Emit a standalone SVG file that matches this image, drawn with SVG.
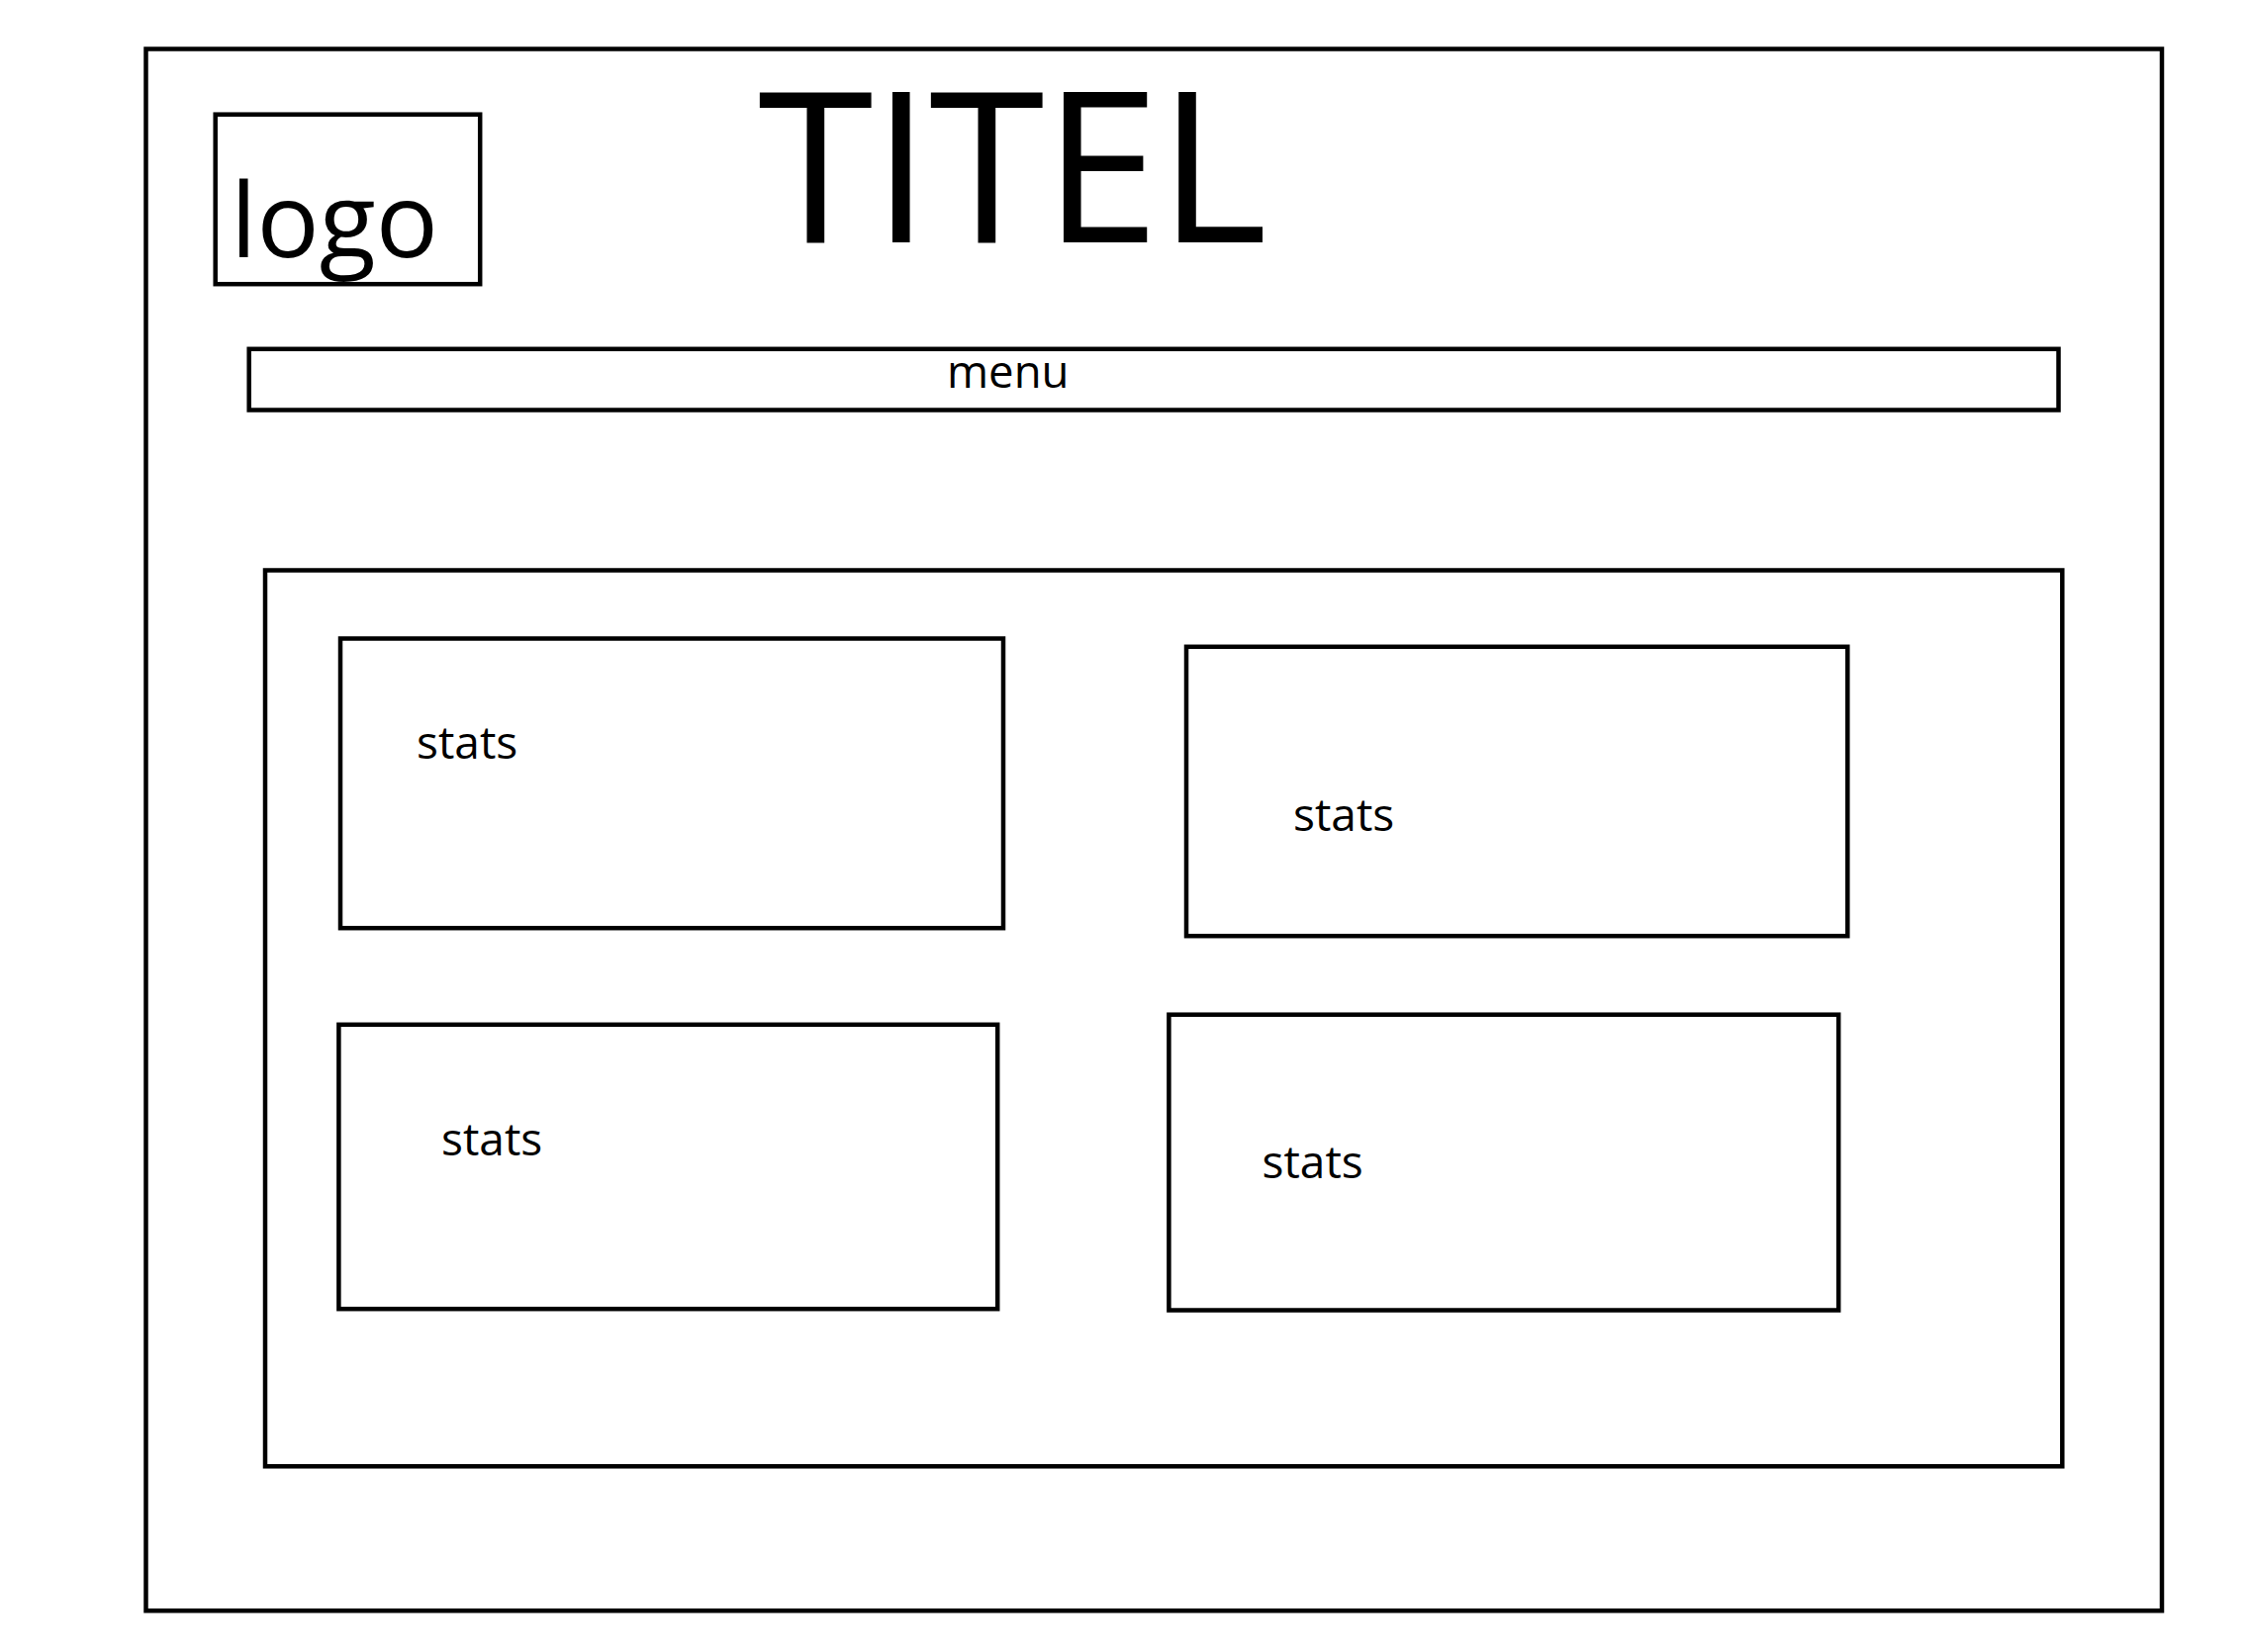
<svg xmlns="http://www.w3.org/2000/svg" width="2271" height="1670" viewBox="0 0 2271 1670">
  <style>
    .box { fill: none; stroke: #000; stroke-width: 4.5; }
    .lbl { font-family: "Open Sans", "Noto Sans", "DejaVu Sans", sans-serif; fill: #000; }
    .small { font-size: 46px; }
  </style>
  <rect width="2271" height="1670" fill="#fff"/>

  <!-- page frame -->
  <g id="page">
    <rect class="box" x="147.5" y="49.5" width="2037.5" height="1578.8"/>
  </g>

  <!-- header -->
  <g id="logo">
    <rect class="box" x="217.7" y="115.7" width="267.5" height="171.5"/>
    <text class="lbl" x="233" y="260" font-size="105">logo</text>
  </g>
  <g id="title">
    <text class="lbl" x="766" y="245" font-size="212" letter-spacing="-1.5">TITEL</text>
  </g>
  <g id="menu">
    <rect class="box" x="251.7" y="352.8" width="1828.8" height="61.7"/>
    <text class="lbl" x="957" y="391.7" font-size="45.5">menu</text>
  </g>

  <!-- content area with four stat panels -->
  <g id="content">
    <rect class="box" x="268" y="576.5" width="1816.3" height="905.8"/>
  </g>
  <g id="stats-1">
    <rect class="box" x="344" y="645.5" width="670" height="292.7"/>
    <text class="lbl small" x="421" y="767.3">stats</text>
  </g>
  <g id="stats-2">
    <rect class="box" x="1199" y="653.8" width="668.3" height="292.4"/>
    <text class="lbl small" x="1307" y="840">stats</text>
  </g>
  <g id="stats-3">
    <rect class="box" x="342.4" y="1035.8" width="665.8" height="287.4"/>
    <text class="lbl small" x="446" y="1168.3">stats</text>
  </g>
  <g id="stats-4">
    <rect class="box" x="1181.4" y="1025.7" width="676.8" height="298.8"/>
    <text class="lbl small" x="1275.5" y="1190.7">stats</text>
  </g>
</svg>
